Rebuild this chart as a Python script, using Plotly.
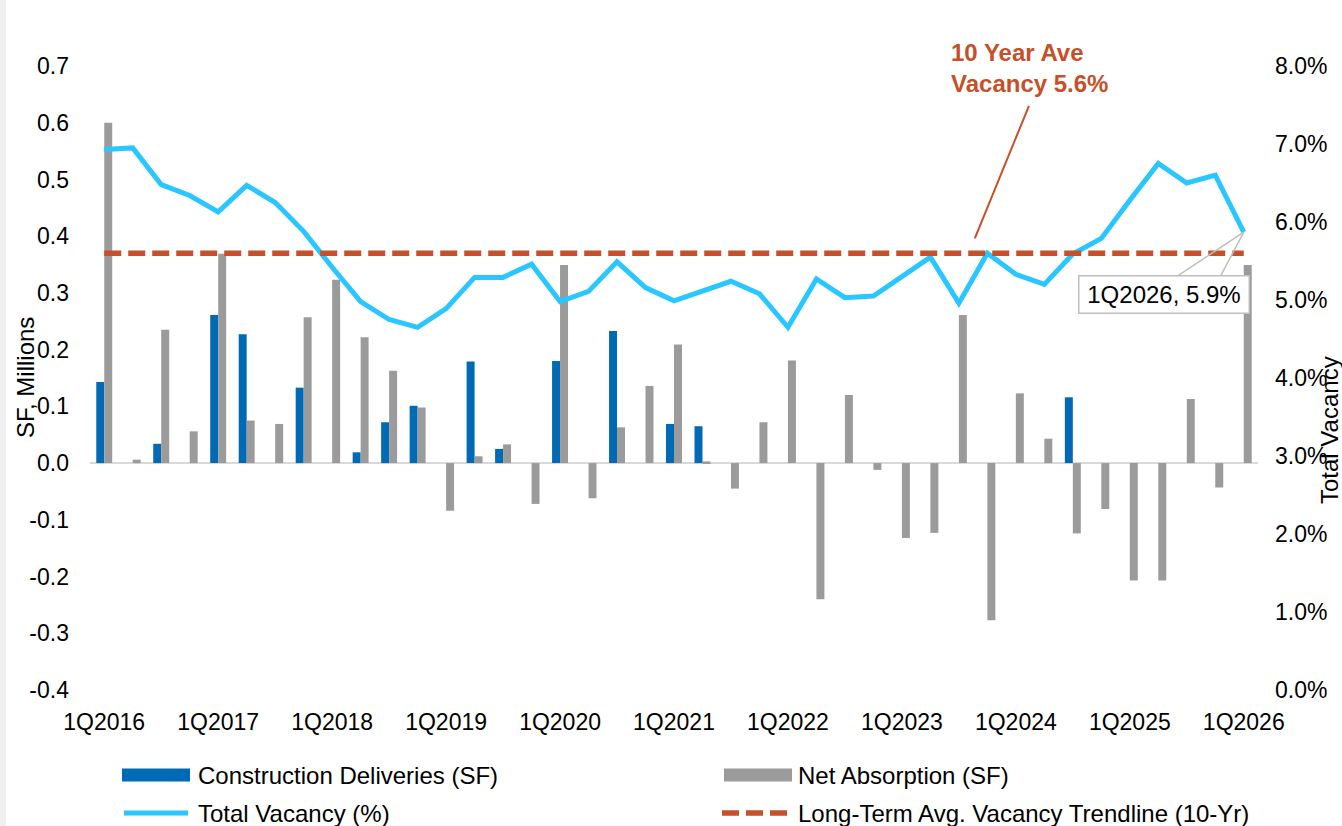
import plotly.graph_objects as go

# ---------------- data ----------------
quarters = [
    "1Q2016", "2Q2016", "3Q2016", "4Q2016",
    "1Q2017", "2Q2017", "3Q2017", "4Q2017",
    "1Q2018", "2Q2018", "3Q2018", "4Q2018",
    "1Q2019", "2Q2019", "3Q2019", "4Q2019",
    "1Q2020", "2Q2020", "3Q2020", "4Q2020",
    "1Q2021", "2Q2021", "3Q2021", "4Q2021",
    "1Q2022", "2Q2022", "3Q2022", "4Q2022",
    "1Q2023", "2Q2023", "3Q2023", "4Q2023",
    "1Q2024", "2Q2024", "3Q2024", "4Q2024",
    "1Q2025", "2Q2025", "3Q2025", "4Q2025",
    "1Q2026",
]

deliveries = [
    0.143, 0.0, 0.034, 0.0,
    0.261, 0.227, 0.0, 0.133,
    0.0, 0.019, 0.072, 0.101,
    0.0, 0.179, 0.025, 0.0,
    0.180, 0.0, 0.233, 0.0,
    0.069, 0.065, 0.0, 0.0,
    0.0, 0.0, 0.0, 0.0,
    0.0, 0.0, 0.0, 0.0,
    0.0, 0.0, 0.116, 0.0,
    0.0, 0.0, 0.0, 0.0,
    0.0,
]

absorption = [
    0.600, 0.006, 0.235, 0.056,
    0.369, 0.075, 0.069, 0.257,
    0.323, 0.222, 0.163, 0.098,
    -0.084, 0.012, 0.033, -0.072,
    0.349, -0.062, 0.063, 0.136,
    0.209, 0.003, -0.045, 0.072,
    0.181, -0.240, 0.120, -0.012,
    -0.132, -0.123, 0.261, -0.277,
    0.123, 0.043, -0.124, -0.081,
    -0.207, -0.207, 0.113, -0.043,
    0.349,
]

vacancy = [
    6.93, 6.95, 6.48, 6.34,
    6.13, 6.47, 6.25, 5.88,
    5.42, 4.98, 4.75, 4.65,
    4.89, 5.29, 5.29, 5.46,
    4.98, 5.11, 5.49, 5.16,
    4.99, 5.11, 5.24, 5.08,
    4.65, 5.27, 5.03, 5.05,
    5.30, 5.55, 4.96, 5.60,
    5.33, 5.20, 5.59, 5.79,
    6.28, 6.75, 6.50, 6.60,
    5.87,
]

ten_year_avg = 5.6

left_ticks = [-0.4, -0.3, -0.2, -0.1, 0.0, 0.1, 0.2, 0.3, 0.4, 0.5, 0.6, 0.7]
right_ticks = [0, 1, 2, 3, 4, 5, 6, 7, 8]

series_names = [
    "Construction Deliveries (SF)",
    "Net Absorption (SF)",
    "Total Vacancy (%)",
    "Long-Term Avg. Vacancy Trendline (10-Yr)",
]

# ---------------- styles ----------------
BLUE = "#006AB4"
GRAY = "#9B9B9B"
CYAN = "#29C6FF"
ORANGE = "#C5502A"
FONT = "Arial, 'Liberation Sans', sans-serif"
W, H = 1342, 826
ML, MR, MT, MB = 90, 84, 66, 136
PW, PH = W - ML - MR, H - MT - MB


def px(xp):
    return (xp - ML) / PW


def py(yp):
    return (H - MB - yp) / PH


x = list(range(len(quarters)))
tick_idx = [i for i, q in enumerate(quarters) if q.startswith("1Q")]
tick_txt = [quarters[i] for i in tick_idx]

fig = go.Figure()
fig.add_trace(go.Bar(x=x, y=deliveries, name=series_names[0],
                     marker=dict(color=BLUE, line=dict(width=0))))
fig.add_trace(go.Bar(x=x, y=absorption, name=series_names[1],
                     marker=dict(color=GRAY, line=dict(width=0))))
fig.add_trace(go.Scatter(x=x, y=vacancy, yaxis="y2", mode="lines",
                         name=series_names[2],
                         line=dict(color=CYAN, width=5)))
fig.add_trace(go.Scatter(x=x, y=[ten_year_avg] * len(x), yaxis="y2", mode="lines",
                         name=series_names[3],
                         line=dict(color=ORANGE, width=5.5, dash="17px,7px")))

last = len(x) - 1

fig.update_layout(
    width=W, height=H,
    margin=dict(l=ML, r=MR, t=MT, b=MB, autoexpand=False),
    paper_bgcolor="white", plot_bgcolor="white",
    font=dict(family=FONT, size=23, color="#000000"),
    barmode="group", bargap=0.44, bargroupgap=0,
    showlegend=False,
    xaxis=dict(range=[-0.5, len(x) - 0.5], tickmode="array", tickvals=tick_idx,
               ticktext=tick_txt, showgrid=False, zeroline=False, showline=False,
               ticks="", ticklabelstandoff=16),
    yaxis=dict(range=[-0.4, 0.7], tickmode="array", tickvals=left_ticks,
               ticktext=[f"{v:.1f}" for v in left_ticks],
               showgrid=False, zeroline=True, zerolinecolor="#D9D9D9", zerolinewidth=2,
               showline=False, ticks="", ticklabelstandoff=20),
    yaxis2=dict(range=[0, 8], overlaying="y", side="right", tickmode="array",
                tickvals=right_ticks, ticktext=[f"{v:.1f}%" for v in right_ticks],
                showgrid=False, zeroline=False, showline=False, ticks="",
                ticklabelstandoff=16),
    hovermode=False,
)

txt_font = dict(family=FONT, size=24, color="#000000")
annotations = [
    # axis titles
    dict(text="SF, Millions", xref="paper", yref="paper", x=px(25), y=0.5,
         textangle=-90, showarrow=False, xanchor="center", yanchor="middle",
         font=txt_font),
    dict(text="Total Vacancy", xref="paper", yref="paper", x=px(1330), y=py(430),
         textangle=-90, showarrow=False, xanchor="center", yanchor="middle",
         font=txt_font),
    # 10-year average callout text
    dict(text="<b>10 Year Ave<br>Vacancy 5.6%</b>", xref="paper", yref="paper",
         x=px(949), y=py(37), xanchor="left", yanchor="top", align="left",
         showarrow=False, font=dict(family=FONT, size=24, color=ORANGE)),
    # last-point data label
    dict(text="1Q2026, 5.9%", xref="x", yref="y2", x=last, y=vacancy[last],
         showarrow=False, xshift=-80, yshift=-62, width=163, height=30,
         bgcolor="white", bordercolor="#BFBFBF", borderwidth=1.5, borderpad=3,
         font=txt_font),
]

# custom legend (two columns, two rows)
leg_cols = [122, 722]
leg_rows = [775, 813]
leg_pos = [(leg_cols[0], leg_rows[0]), (leg_cols[1], leg_rows[0]),
           (leg_cols[0], leg_rows[1]), (leg_cols[1], leg_rows[1])]
for name, (lx, ly) in zip(series_names, leg_pos):
    annotations.append(dict(text=name, xref="paper", yref="paper", x=px(lx + 74), y=py(ly),
                            xanchor="left", yanchor="middle", showarrow=False,
                            font=txt_font))
fig.update_layout(annotations=annotations)

shapes = [
    # light strip at left edge of page
    dict(type="rect", xref="paper", yref="paper", x0=px(0), x1=px(6),
         y0=py(H + 2), y1=py(-2), fillcolor="#F0F0F0", line=dict(width=0), layer="below"),
    # leader line for 10-year average label
    dict(type="line", xref="x", yref="y2", x0=30.56, y0=5.79, x1=32.46, y1=7.49,
         line=dict(color=ORANGE, width=2)),
    # callout wedge for last-point label
    dict(type="path", xref="x", yref="y2",
         path=f"M 37.68,5.31 L {last},{vacancy[last]} L 39.19,5.31",
         line=dict(color="#BFBFBF", width=1.5)),
]
# legend symbols
c0, c1 = leg_cols
r0, r1 = leg_rows
shapes += [
    dict(type="rect", xref="paper", yref="paper", x0=px(c0), x1=px(c0 + 68),
         y0=py(r0 + 6.5), y1=py(r0 - 6.5), fillcolor=BLUE, line=dict(width=0)),
    dict(type="rect", xref="paper", yref="paper", x0=px(c1 + 2), x1=px(c1 + 70),
         y0=py(r0 + 6.5), y1=py(r0 - 6.5), fillcolor=GRAY, line=dict(width=0)),
    dict(type="line", xref="paper", yref="paper", x0=px(c0 + 2), x1=px(c0 + 66),
         y0=py(r1), y1=py(r1), line=dict(color=CYAN, width=5)),
    dict(type="line", xref="paper", yref="paper", x0=px(c1), x1=px(c1 + 65),
         y0=py(r1), y1=py(r1), line=dict(color=ORANGE, width=5.5, dash="17px,7px")),
]
fig.update_layout(shapes=shapes)

fig.write_html("out.html", config={"displayModeBar": False},
               post_script="document.body.style.margin='0';document.body.style.overflow='hidden';")
